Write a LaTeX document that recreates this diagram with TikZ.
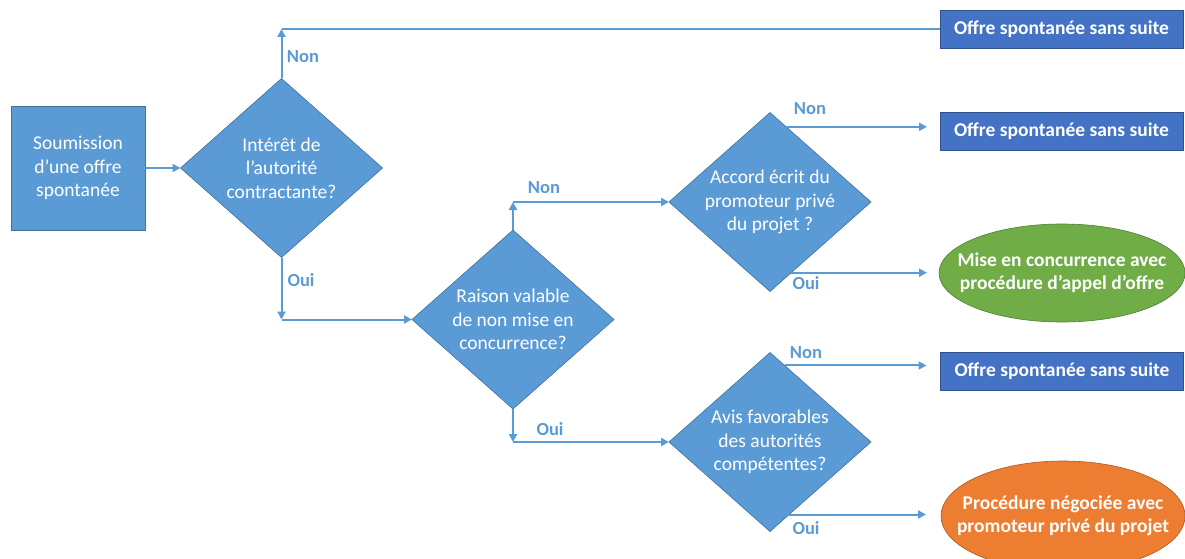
\documentclass[tikz,border=0pt]{standalone}
\usepackage{fontspec}
\setmainfont{Carlito}
\usetikzlibrary{shapes.geometric,arrows.meta,calc}
\definecolor{lblue}{HTML}{5B9BD5}
\definecolor{lbluedark}{HTML}{41719C}
\definecolor{dblue}{HTML}{4472C4}
\definecolor{dbluedark}{HTML}{2F528F}
\definecolor{ogreen}{HTML}{70AD47}
\definecolor{ogreendark}{HTML}{507E32}
\definecolor{oorange}{HTML}{ED7D31}
\definecolor{oorangedark}{HTML}{AE5A21}
\tikzset{
  txt/.style={text=white, font=\fontsize{19.5}{23.5}\selectfont, align=center, inner sep=0pt},
  btxt/.style={text=white, font=\bfseries\fontsize{19.5}{23}\selectfont, align=center, inner sep=0pt},
  decision/.style={shape=diamond, fill=lblue, draw=lbluedark, line width=0.6pt,
    inner sep=0pt, outer sep=0pt, minimum width=202pt, minimum height=179pt},
  startbox/.style={txt, rectangle, fill=lblue, draw=lbluedark, line width=0.6pt,
    outer sep=0pt, minimum width=134pt, minimum height=124pt},
  endbox/.style={btxt, rectangle, fill=dblue, draw=dbluedark, line width=0.6pt,
    outer sep=0pt, minimum width=243pt, minimum height=38pt},
  endoval/.style={ellipse, line width=0.6pt, inner sep=0pt, outer sep=0pt},
  conn/.style={draw=lblue, line width=2pt},
  arr/.style={conn, -{Triangle[length=8pt,width=8pt]}},
  lbl/.style={text=lblue, font=\bfseries\fontsize{18.5}{20}\selectfont, inner sep=0pt}
}
\begin{document}
\begin{tikzpicture}[x=1pt,y=-1pt]
\clip (0,0) rectangle (1185,559);
\fill[white] (0,0) rectangle (1185,559);

% nodes
\node[startbox] (s) at (78,168) {Soumission\\d’une offre\\spontanée};
\node[decision, label={[txt]center:{Intérêt de\\l’autorité\\contractante?}}] (d1) at (281.5,168) {};
\node[decision, label={[txt]center:{Raison valable\\de non mise en\\concurrence?}}] (d2) at (513,319.5) {};
\node[decision, label={[txt]center:{Accord écrit du\\promoteur privé\\du projet ?}}] (d3) at (770,202) {};
\node[decision, label={[txt]center:{Avis favorables\\des autorités\\compétentes?}}] (d4) at (770,442) {};

\node[endbox] (o1) at (1061.5,29) {Offre spontanée sans suite};
\node[endbox] (o2) at (1061.5,131.5) {Offre spontanée sans suite};
\node[endoval, fill=ogreen, draw=ogreendark, minimum width=246pt, minimum height=98pt,
  label={[btxt]center:{Mise en concurrence avec\\procédure d’appel d’offre}}] (g) at (1062,273) {};
\node[endbox] (o3) at (1062,371) {Offre spontanée sans suite};
\node[endoval, fill=oorange, draw=oorangedark, minimum width=244pt, minimum height=110pt,
  label={[btxt]center:{Procédure négociée avec\\promoteur privé du projet}}] (r) at (1063,516) {};

% connectors
\draw[arr] (s.east) -- (d1.west);

\coordinate (n1) at (d1.north |- o1.west);
\draw[arr] (d1.north) -- (n1);
\draw[conn] (n1) -- (o1.west);

\coordinate (y1) at (d1.south |- d2.west);
\draw[arr] (d1.south) -- (y1);
\draw[arr] (y1) -- (d2.west);

\coordinate (n2) at (d2.north |- d3.west);
\draw[arr] (d2.north) -- (n2);
\draw[arr] (n2) -- (d3.west);

\coordinate (y2) at (d2.south |- d4.west);
\draw[arr] (d2.south) -- (y2);
\draw[arr] (y2) -- (d4.west);

\coordinate (a3) at ($(d3.north)!0.16!(d3.east)$);
\draw[arr, shorten >=13pt] (a3) -- (a3 -| o2.west);
\coordinate (b3) at ($(d3.east)!0.79!(d3.south)$);
\draw[arr, shorten >=12pt] (b3) -- (b3 -| g.west);

\coordinate (a4) at ($(d4.north)!0.145!(d4.east)$);
\draw[arr, shorten >=14pt] (a4) -- (a4 -| o3.west);
\coordinate (b4) at ($(d4.east)!0.81!(d4.south)$);
\draw[arr, shorten >=15pt] (b4) -- (b4 -| r.west);

% labels
\node[lbl] (l1) at (303,57) {Non};
\node[lbl] (l2) at (301,280) {Oui};
\node[lbl] (l3) at (544,188) {Non};
\node[lbl] (l4) at (550,429) {Oui};
\node[lbl] (l5) at (810,109) {Non};
\node[lbl] (l6) at (806,283) {Oui};
\node[lbl] (l7) at (806,353) {Non};
\node[lbl] (l8) at (806,528) {Oui};
\end{tikzpicture}
\end{document}
